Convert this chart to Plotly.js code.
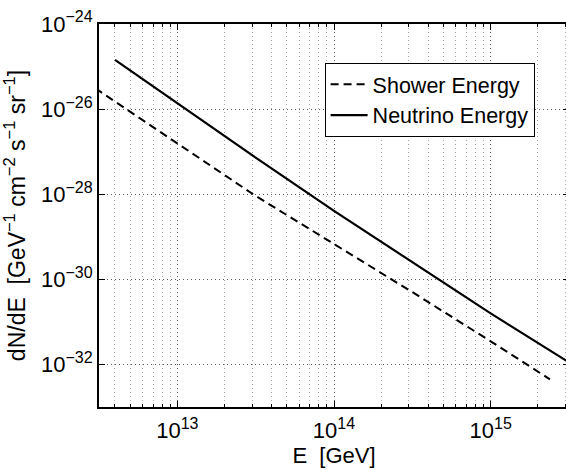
<!DOCTYPE html>
<html>
<head>
<meta charset="utf-8">
<script src="https://cdn.plot.ly/plotly-3.0.1.min.js"></script>
<style>
  html, body { margin: 0; padding: 0; overflow: hidden; background: white; }
  #chart { width: 572px; height: 470px; }
</style>
</head>
<body>
<div id="chart"></div>
<script>
// Neutrino energy spectrum (solid)
var neutrinoE    = [4e12, 1e13, 3.162e13, 1e14, 3.162e14, 1e15, 3.162e15];
var neutrinoFlux = [1.43e-25, 1.37e-26, 7.24e-28, 4.07e-29, 2.51e-30, 1.58e-31, 1.12e-32];

// Shower energy spectrum (dashed)
var showerE    = [3e12, 1e13, 3.162e13, 1e14, 3.162e14, 1e15, 2.39e15];
var showerFlux = [3.07e-26, 1.55e-27, 9.12e-29, 6.76e-30, 5.01e-31, 3.50e-32, 4.47e-33];

var seriesNames = ['Shower Energy', 'Neutrino Energy'];

// Tick values and labels
var xTickVals = [1e13, 1e14, 1e15];
var xTickExp  = ['13', '14', '15'];
var xMinorVals = [4e12, 5e12, 6e12, 7e12, 8e12, 9e12,
                  2e13, 3e13, 4e13, 5e13, 6e13, 7e13, 8e13, 9e13,
                  2e14, 3e14, 4e14, 5e14, 6e14, 7e14, 8e14, 9e14,
                  2e15, 3e15];
var yTickVals = [1e-24, 1e-26, 1e-28, 1e-30, 1e-32];
var yTickExp  = ['\u221224', '\u221226', '\u221228', '\u221230', '\u221232'];

function powLabel(e) {
  return '10<sup><span style="font-size:16px">' + e + '</span></sup>';
}
function supSmall(t) {
  return '<sup><span style="font-size:16.5px">' + t + '</span></sup>';
}

var traces = [
  { x: showerE, y: showerFlux, mode: 'lines', name: seriesNames[0],
    line: { color: 'black', width: 2, dash: '8px,5px' } },
  { x: neutrinoE, y: neutrinoFlux, mode: 'lines', name: seriesNames[1],
    line: { color: 'black', width: 2.2 } }
];

var axisCommon = {
  type: 'log',
  tickmode: 'array',
  showline: true, linecolor: 'black', linewidth: 2,
  mirror: 'ticks',
  ticks: 'inside', ticklen: 6, tickcolor: 'black', tickwidth: 1,
  showgrid: true, gridcolor: '#5a5a5a', griddash: '1px,3px', gridwidth: 1,
  zeroline: false,
  tickfont: { size: 22, color: 'black' }
};

var layout = {
  width: 572, height: 470,
  margin: { l: 99, r: 3, t: 24, b: 63 },
  paper_bgcolor: 'white', plot_bgcolor: 'white',
  font: { family: 'Liberation Sans, Arial, sans-serif', size: 22, color: 'black' },
  showlegend: true,
  legend: { x: 0.48, y: 0.899, xanchor: 'left', yanchor: 'top',
            bgcolor: 'white', bordercolor: 'black', borderwidth: 1,
            itemwidth: 37, font: { size: 21.5 }, tracegroupgap: 0 },
  xaxis: Object.assign({}, axisCommon, {
    range: [12.5, 15.5],
    tickvals: xTickVals,
    ticktext: xTickExp.map(powLabel),
    ticklabelstandoff: 3,
    minor: { tickmode: 'array', tickvals: xMinorVals,
             ticks: 'inside', ticklen: 3, tickcolor: 'black',
             showgrid: true, gridcolor: '#a8a8a8', griddash: '1px,3px', gridwidth: 1 },
    title: { text: 'E\u00a0\u00a0[GeV]', font: { size: 22 }, standoff: 3 }
  }),
  yaxis: Object.assign({}, axisCommon, {
    range: [-33, -24],
    tickvals: yTickVals,
    ticktext: yTickExp.map(powLabel),
    title: { text: 'dN/dE\u00a0\u00a0[GeV' + supSmall('\u22121') + ' cm' + supSmall('\u22122') +
                   ' s' + supSmall('\u22121') + ' sr' + supSmall('\u22121') + ']',
             font: { size: 23 }, standoff: 12 }
  })
};

Plotly.newPlot('chart', traces, layout, { displayModeBar: false, staticPlot: true });
</script>
</body>
</html>
